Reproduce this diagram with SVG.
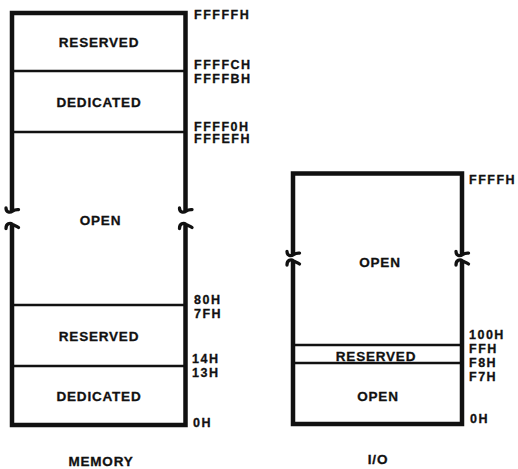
<svg xmlns="http://www.w3.org/2000/svg" xmlns:xlink="http://www.w3.org/1999/xlink" width="518" height="469" viewBox="0 0 518 469">
<style>
text{font-family:"Liberation Sans",Arial,sans-serif;font-weight:bold;fill:#111;stroke:#111;stroke-width:0.3}
.c{text-anchor:middle;font-size:13.5px;letter-spacing:0.8px}
.a{font-size:12.5px;letter-spacing:1.5px}
.edge{stroke:#111;stroke-width:4.5;fill:none;stroke-linecap:butt;stroke-linejoin:miter}
.div{stroke:#111;stroke-width:2.5;fill:none}
.brk{stroke:#111;stroke-width:3.3;fill:none;stroke-linecap:round}
</style>
<defs>
<path id="cup" class="brk" d="M-6,-3.5 C-6,1 -2,1.5 0.5,-0.3 C2.5,-1.6 4.5,-2 6.5,-1.8"/>
<path id="arch" class="brk" d="M-6,4.5 C-6,-0.5 -2,-1.5 0.5,0.3 C2.5,1.6 4.5,2 6.5,3.5"/>
</defs>
<rect width="518" height="469" fill="#fff"/>
<g id="memory">
  <path class="edge" d="M12,211 V13 H185.5 V211"/>
  <path class="edge" d="M12,225 V425 H185.5 V225"/>
  <use xlink:href="#cup" x="12" y="211.5"/>
  <use xlink:href="#arch" x="12" y="224"/>
  <use xlink:href="#cup" x="185.5" y="211.5"/>
  <use xlink:href="#arch" x="185.5" y="224"/>
  <g id="mem-reserved-top">
    <line class="div" x1="12" y1="71" x2="185.5" y2="71"/>
    <text class="c" x="99" y="46.7">RESERVED</text>
  </g>
  <g id="mem-dedicated-top">
    <line class="div" x1="12" y1="132" x2="185.5" y2="132"/>
    <text class="c" x="99" y="107">DEDICATED</text>
  </g>
  <g id="mem-open">
    <text class="c" x="100.5" y="225">OPEN</text>
  </g>
  <g id="mem-reserved-low">
    <line class="div" x1="12" y1="305" x2="185.5" y2="305"/>
    <text class="c" x="99" y="341">RESERVED</text>
  </g>
  <g id="mem-dedicated-low">
    <line class="div" x1="12" y1="366" x2="185.5" y2="366"/>
    <text class="c" x="99" y="401">DEDICATED</text>
  </g>
  <g id="mem-addresses">
    <text class="a" x="194" y="19">FFFFFH</text>
    <text class="a" x="194" y="69">FFFFCH</text>
    <text class="a" x="194" y="83">FFFFBH</text>
    <text class="a" x="194" y="130.5">FFFF0H</text>
    <text class="a" x="194" y="143">FFFEFH</text>
    <text class="a" x="194" y="304">80H</text>
    <text class="a" x="194" y="318">7FH</text>
    <text class="a" x="192" y="363">14H</text>
    <text class="a" x="192" y="377">13H</text>
    <text class="a" x="193" y="427">0H</text>
  </g>
  <text class="c" x="101" y="466">MEMORY</text>
</g>
<g id="io">
  <path class="edge" d="M293,254.5 V173.5 H462 V254.5"/>
  <path class="edge" d="M293,261 V424 H462 V261"/>
  <use xlink:href="#cup" x="293" y="255"/>
  <use xlink:href="#arch" x="293" y="260.5"/>
  <use xlink:href="#cup" x="462" y="255"/>
  <use xlink:href="#arch" x="462" y="260.5"/>
  <g id="io-open-top">
    <text class="c" x="380" y="267">OPEN</text>
  </g>
  <g id="io-reserved">
    <line class="div" x1="293" y1="345" x2="462" y2="345"/>
    <text class="c" x="376" y="360.5">RESERVED</text>
  </g>
  <g id="io-open-low">
    <line class="div" x1="293" y1="363" x2="462" y2="363"/>
    <text class="c" x="378" y="400.5">OPEN</text>
  </g>
  <g id="io-addresses">
    <text class="a" x="469" y="184">FFFFH</text>
    <text class="a" x="469" y="339">100H</text>
    <text class="a" x="469" y="353">FFH</text>
    <text class="a" x="469" y="367">F8H</text>
    <text class="a" x="469" y="381">F7H</text>
    <text class="a" x="470" y="423">0H</text>
  </g>
  <text class="c" x="378" y="464">I/O</text>
</g>
</svg>
